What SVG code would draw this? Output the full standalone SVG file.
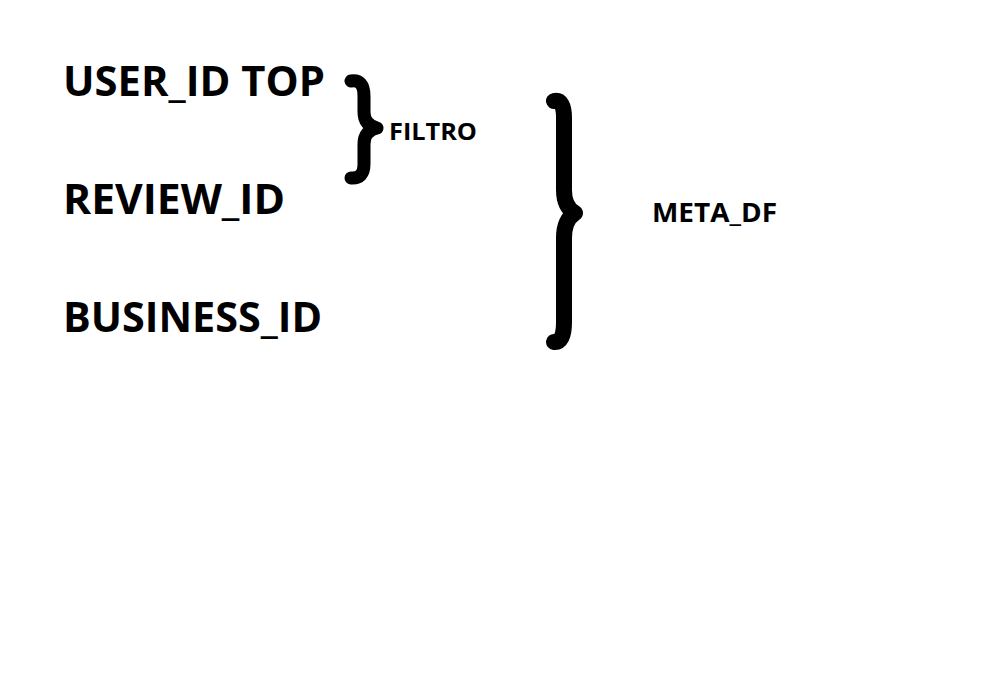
<svg xmlns="http://www.w3.org/2000/svg" width="996" height="678" viewBox="0 0 996 678">
<style>
.big{font-family:"Open Sans","Liberation Sans",sans-serif;font-weight:bold;font-size:42px;fill:#000}
.small{font-family:"Open Sans","Liberation Sans",sans-serif;font-weight:bold;fill:#000}
.brace{fill:none;stroke:#000;stroke-linecap:round;stroke-linejoin:round}
</style>
<rect width="996" height="678" fill="#fff"/>
<g id="user_id_top"><text class="big" x="63" y="96" textLength="262" lengthAdjust="spacingAndGlyphs">USER_ID TOP</text></g>
<g id="review_id"><text class="big" x="63" y="214" textLength="222" lengthAdjust="spacingAndGlyphs">REVIEW_ID</text></g>
<g id="business_id"><text class="big" x="63" y="332" textLength="259" lengthAdjust="spacingAndGlyphs">BUSINESS_ID</text></g>
<g id="filtro"><text class="small" x="389" y="140" font-size="24" textLength="88" lengthAdjust="spacingAndGlyphs">FILTRO</text></g>
<g id="meta_df"><text class="small" x="652" y="222" font-size="27" textLength="125" lengthAdjust="spacingAndGlyphs">META_DF</text></g>
<g id="connectors">
<path class="brace" stroke-width="13" d="M 351 81 Q 364 79 364 96 L 364 112 Q 364 125 377 128 Q 364 131 364 144 L 364 164 Q 364 179 351 178"/>
<path class="brace" stroke-width="16" d="M 554 101 Q 564 99 564 118 L 564 190 Q 564 207 575 213 Q 564 220 564 238 L 564 322 Q 564 343 554 342"/>
</g>
</svg>
